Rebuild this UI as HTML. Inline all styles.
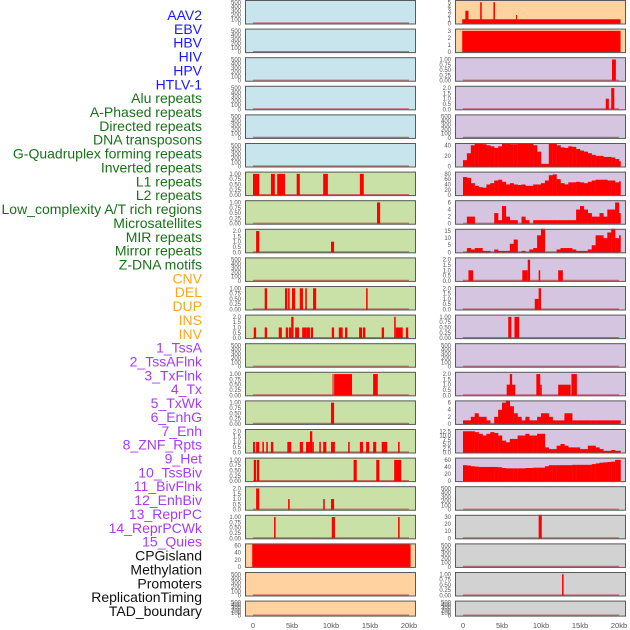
<!DOCTYPE html>
<html><head><meta charset="utf-8">
<style>
html,body{margin:0;padding:0;background:#fff;}
svg{display:block;font-family:"Liberation Sans",sans-serif;}
</style></head>
<body>
<svg id="chart" width="630" height="630" viewBox="0 0 630 630" xmlns="http://www.w3.org/2000/svg">
<g id="labels"></g>
<g id="panels"></g>
<g id="xaxes"></g>
</svg>
<script>
// ---------- data ----------
const trackLabels = ["AAV2","EBV","HBV","HIV","HPV","HTLV-1","Alu repeats","A-Phased repeats","Directed repeats","DNA transposons","G-Quadruplex forming repeats","Inverted repeats","L1 repeats","L2 repeats","Low_complexity A/T rich regions","Microsatellites","MIR repeats","Mirror repeats","Z-DNA motifs","CNV","DEL","DUP","INS","INV","1_TssA","2_TssAFlnk","3_TxFlnk","4_Tx","5_TxWk","6_EnhG","7_Enh","8_ZNF_Rpts","9_Het","10_TssBiv","11_BivFlnk","12_EnhBiv","13_ReprPC","14_ReprPCWk","15_Quies","CPGisland","Methylation","Promoters","ReplicationTiming","TAD_boundary"];
const labelGroups = [0,0,0,0,0,0,1,1,1,1,1,1,1,1,1,1,1,1,1,2,2,2,2,2,3,3,3,3,3,3,3,3,3,3,3,3,3,3,3,4,4,4,4,4];
const xTickKb = [0,5,10,15,20];
const xTickLabels = ["0","5kb","10kb","15kb","20kb"];

const T500 = [0,100,200,300,400,500];
const T1 = [0,0.25,0.5,0.75,1];
const T2 = [0,0.5,1,1.5,2];

// left column: ticks / sparse bars [startKb,endKb,value]
const leftTicks = [T500,T500,T500,T500,T500,T500,T1,T1,T2,T500,T1,T2,T500,T1,T1,T2,T1,T2,T1,[0,20,40,60],T500,T500];
const leftBg = ["blue","blue","blue","blue","blue","blue","green","green","green","green","green","green","green","green","green","green","green","green","green","orange","orange","orange"];
const leftBars = [
 [],[],[],[],[],[],
 [[0,0.8,1],[2.3,2.8,1],[3.1,4.1,1],[5.6,6.0,1],[9,9.6,1],[13.7,14.2,1]],
 [[15.9,16.3,1]],
 [[0.4,0.8,2],[10,10.4,1]],
 [],
 [[1.5,1.8,1],[4.1,4.4,1],[4.5,4.7,1],[5,5.4,1],[6,6.4,1],[6.7,6.9,1],[7.7,8.1,1],[14.5,14.7,1]],
 [[0.1,0.4,1],[1.5,1.8,1],[3.3,3.7,1],[4.2,4.5,1],[4.6,4.9,1],[4.9,5.2,2],[5.4,5.9,1],[6.3,6.9,1],[6.9,7.3,1],[7.4,7.7,1],[10.1,10.4,1],[11,11.5,1],[11.8,12.1,1],[13.6,14,1],[14.1,14.4,1],[16.5,16.8,1],[18.1,18.3,2],[18.3,19.2,1],[19.6,19.9,1]],
 [],
 [[10.2,10.3,1],[10.4,12.7,1],[15.4,16.0,1]],
 [[10,10.4,1]],
 [[0,0.25,1],[0.4,0.8,1],[1.2,1.4,1],[1.7,1.9,1],[2.3,2.6,1],[4.4,4.9,1],[6,6.4,1],[6.8,7.3,1],[7.3,7.6,2],[7.6,7.8,1],[8.5,8.7,1],[9,9.4,1],[10,10.5,1],[12.2,12.4,1],[13.7,14.1,1],[14.5,14.9,1],[15.4,15.8,1],[16.5,17.2,1],[18.6,18.8,1]],
 [[0.1,0.4,1],[0.5,0.8,1],[12.9,13.3,1],[15.8,16.2,1],[18.1,19.0,1]],
 [[0.4,0.8,2],[4.5,4.7,1],[9,9.2,1],[10,10.4,1]],
 [[2.7,2.9,1],[10.1,10.5,1],[18.6,18.8,1]],
 [[-0.1,20.2,65]],
 [],[]
];

// right column
const rightTicks = [[0,1,2,3,4,5],[0,1,2,3],T1,T2,T500,[0,20,40],[0,20,40,60,80],[0,2,4,6],[0,5,10,15],T2,T2,T1,T500,T2,[0,2,4,6],[0,2.5,5,7.5,10,12.5],[0,20,40,60],T500,[0,10,20,30],T500,T1,T500];
const rightTickText = {15:["0.0","2.5","5.0","7.5","10.0","12.5"]};
const rightBg = ["orange","orange","purple","purple","purple","purple","purple","purple","purple","purple","purple","purple","purple","purple","purple","purple","purple","gray","gray","gray","gray","gray"];
const rightBars = [
 [[-0.1,20.2,1],[0.3,0.7,3],[2.2,2.4,5],[3.9,4.1,5],[6.8,6.9,2]],
 [[-0.1,20.2,3]],
 [[19.1,19.6,1]],
 [[18.3,18.7,1],[19.0,19.4,2]],
 [],[],[],[],[],
 [[0.7,1.3,1],[7.6,8.3,1],[8.3,8.6,2],[9.7,9.9,1],[12.2,12.8,1]],
 [[9.2,9.7,1],[9.7,10.0,2]],
 [[5.8,6.2,1],[6.6,7.2,1]],
 [],
 [[5.6,6.7,1],[6.0,6.3,2],[9.4,9.9,2],[9.9,10.1,1],[12.2,13.8,1],[13.9,14.6,2]],
 [],[],[],[],
 [[9.7,10.1,38]],
 [],
 [[12.7,12.9,1]],
 []
];
// dense profiles, one value per 0.5kb bin starting at 0kb
const gquadProfile = [12,25,40,48,50,42,40,38,35,38,45,46,42,42,47,48,46,44,40,28,5,5,45,45,40,36,35,38,37,33,30,28,25,22,20,20,18,18,17,14,10];
const l1Profile = [68,65,45,35,30,28,40,45,55,58,50,40,45,40,38,40,35,35,40,40,45,55,75,78,60,45,40,48,48,50,48,45,50,55,58,58,58,55,55,48,52];
const l2Profile = [0,2,2,0,0,0,0,0,3,1,5,2,1,1,0,2,1,0,1,1,1,1,1,1,1,1,1,1,1,4,5,4,3,2,2,3,2,4,4,6,3];
const lowCxProfile = [0,3,2,3,3,1,1,0,2,1,1,1,6,9,0,1,0,2,3,12,17,0,0,0,2,3,3,3,2,1,1,1,2,5,12,12,10,14,17,10,12];
const enhProfile = [1,1,2,3,2,2,1,0,2,4,6,7,5,3,2,1,2,1,1,2,3,3,2,1,1,1,3,3,1,1,1,1,1,1,1,1,1,1,1,1,1];
const znfProfile = [12.5,12.5,12.5,12,11,10,11,12,11.5,10,7,6,8,8,10,10,11,10,10,11,11,3,2,2,4,5,4,3,3,3,2,2,4,4,3,2,1,1,1.5,1,1];
const hetProfile = [45,44,42,41,40,40,40,40,40,39,37,36,36,36,36,36,37,37,38,38,38,42,45,45,45,45,45,45,46,46,46,46,46,48,50,52,53,54,55,60,60];
const rightProfiles = {5:gquadProfile, 6:l1Profile, 7:l2Profile, 8:lowCxProfile, 14:enhProfile, 15:znfProfile, 16:hetProfile};

// ---------- rendering ----------
const NS = "http://www.w3.org/2000/svg";
const bgColors = {blue:"#c8e4ec", green:"#c9e1a6", orange:"#ffd2a0", purple:"#d6c5e1", gray:"#d2d2d2"};
const labelColors = ["#1a1aff","#197219","#ffa51a","#a63cf5","#111111"];
const PITCH = 28.6, PH = 24.5;
const cols = [{x0:245,x1:416,z:253},{x0:455,x1:626,z:463}];
const KB = 7.8;

function el(tag, attrs, parent){
  const e = document.createElementNS(NS, tag);
  for (const k in attrs) e.setAttribute(k, attrs[k]);
  parent.appendChild(e);
  return e;
}
function fmtTick(v, ticks){
  const maxT = ticks[ticks.length-1];
  if (maxT === 1) return v.toFixed(2);
  if (maxT === 2) return v.toFixed(1);
  return String(v);
}

const labG = document.getElementById("labels");
trackLabels.forEach((t,i)=>{
  const tx = el("text",{x:202,y:15+i*13.86+5,"text-anchor":"end","font-size":"14",fill:labelColors[labelGroups[i]]},labG);
  
  
  tx.textContent = t;
});

const pG = document.getElementById("panels");
function drawPanel(colIdx, row, ticks, bg, bars, profile, tickText){
  const c = cols[colIdx];
  const top = row*PITCH;
  const h = row===21 ? 16 : PH;
  const g = el("g",{},pG);
  
  
  const clipId = "clip"+colIdx+"_"+row;
  const cp = el("clipPath",{id:clipId},g);
  el("rect",{x:c.x0,y:top,width:c.x1-c.x0,height:h},cp);
  const r = el("rect",{x:c.x0,y:top,width:c.x1-c.x0,height:h,fill:bgColors[bg]},g);
  
  
  const maxT = ticks[ticks.length-1];
  const ymax = maxT*1.06;
  const base = top+h-1;
  const span = h-2;
  const yS = v => base - v/ymax*span;
  const xS = kb => c.z + kb*KB;
  const dg = el("g",{"clip-path":"url(#"+clipId+")"},g);
  const zl = el("line",{x1:xS(0),x2:xS(20),y1:base-0.5,y2:base-0.5,stroke:"#b04040","stroke-opacity":"0.7","stroke-width":"1.2"},dg);
  
  
  if (profile){
    profile.forEach((v,i)=>{
      const kb = i*0.5;
      const w = Math.min(0.5, 20.2-kb);
      const b = el("rect",{x:xS(kb),y:yS(v),width:w*KB+0.2,height:Math.max(0,base-yS(v)),fill:"#ff0000"},dg);
      
      
    });
  }
  bars.forEach(bb=>{
    const b = el("rect",{x:xS(bb[0]),y:yS(bb[2]),width:Math.max(1,(bb[1]-bb[0])*KB),height:base-yS(bb[2]),fill:"#ff0000"},dg);
    
    
  });
  el("rect",{x:c.x0+0.5,y:top+0.5,width:c.x1-c.x0-1,height:h-1,fill:"none",stroke:"#5a5a5a","stroke-width":"1"},g);
  ticks.forEach((v,i)=>{
    const tt = el("text",{x:c.x0-4,y:yS(v)+2,"text-anchor":"end","font-size":"6",fill:"#555"},g);
    
    
    tt.textContent = tickText ? tickText[i] : fmtTick(v, ticks);
  });
}
for (let r=0;r<22;r++){
  drawPanel(0, r, leftTicks[r], leftBg[r], leftBars[r], null, null);
  drawPanel(1, r, rightTicks[r], rightBg[r], rightBars[r], rightProfiles[r]||null, rightTickText[r]||null);
}

const xG = document.getElementById("xaxes");
cols.forEach(c=>{
  xTickKb.forEach((kb,i)=>{
    const t = el("text",{x:c.z+kb*KB,y:628,"text-anchor":"middle","font-size":"7.5",fill:"#555"},xG);
    
    
    t.textContent = xTickLabels[i];
  });
});
</script>
</body></html>
